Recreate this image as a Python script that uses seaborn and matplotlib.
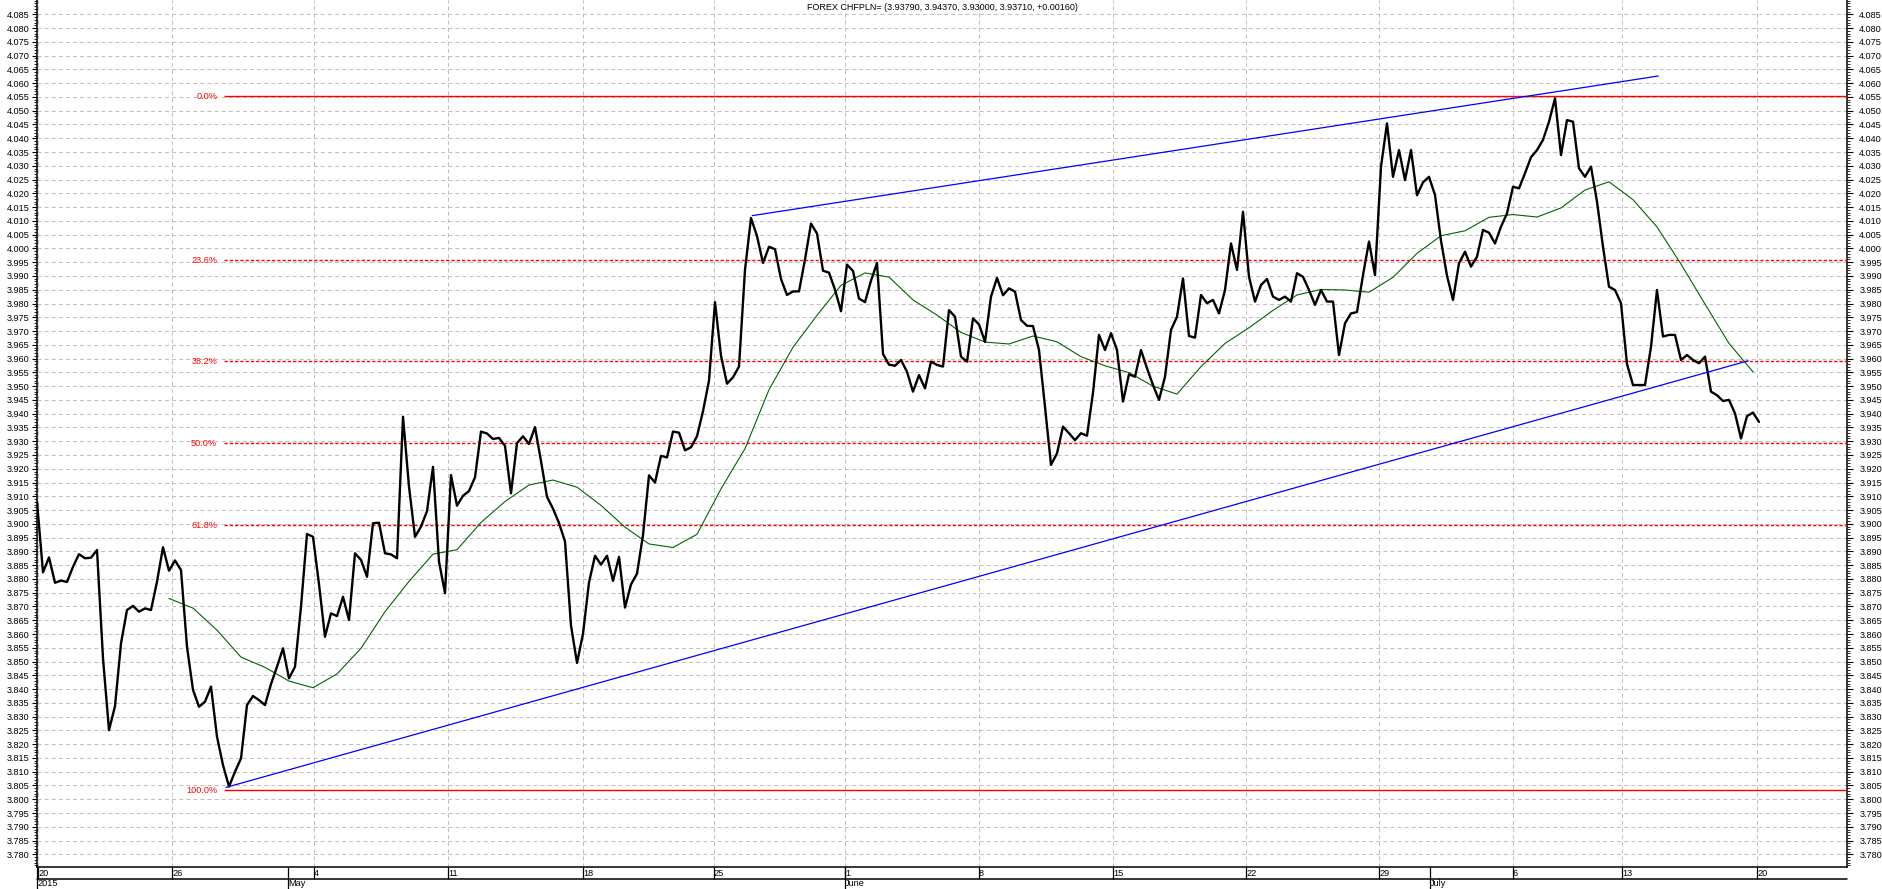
import numpy as np
import pandas as pd
import matplotlib
matplotlib.use("Agg")
import matplotlib.pyplot as plt
import seaborn as sns
from matplotlib.lines import Line2D
from matplotlib.ticker import FixedLocator, FormatStrFormatter

# ---------------- data ----------------
title = "FOREX CHFPLN= (3.93790, 3.94370, 3.93000, 3.93710, +0.00160)"

price = [
    3.9080, 3.8824, 3.8878, 3.8786, 3.8794, 3.8789, 3.8844, 3.8890, 3.8875, 3.8877,
    3.8905, 3.8512, 3.8251, 3.8338, 3.8566, 3.8687, 3.8702, 3.8681, 3.8693, 3.8687,
    3.8790, 3.8915, 3.8830, 3.8867, 3.8832, 3.8554, 3.8397, 3.8336, 3.8354, 3.8409,
    3.8227, 3.8124, 3.8046, 3.8100, 3.8148, 3.8342, 3.8375, 3.8360, 3.8342, 3.8418,
    3.8481, 3.8548, 3.8439, 3.8481, 3.8699, 3.8963, 3.8953, 3.8781, 3.8590, 3.8675,
    3.8665, 3.8735, 3.8651, 3.8893, 3.8869, 3.8808, 3.9002, 3.9004, 3.8893, 3.8889,
    3.8875, 3.9389, 3.9135, 3.8953, 3.8990, 3.9046, 3.9207, 3.8863, 3.8748, 3.9177,
    3.9066, 3.9102, 3.9119, 3.9169, 3.9335, 3.9328, 3.9308, 3.9312, 3.9283, 3.9111,
    3.9293, 3.9318, 3.9290, 3.9351, 3.9228, 3.9098, 3.9055, 3.9003, 3.8936, 3.8631,
    3.8495, 3.8601, 3.8787, 3.8884, 3.8852, 3.8884, 3.8793, 3.8880, 3.8696, 3.8780,
    3.8819, 3.8959, 3.9176, 3.9150, 3.9247, 3.9241, 3.9335, 3.9331, 3.9267, 3.9278,
    3.9318, 3.9409, 3.9520, 3.9805, 3.9610, 3.9509, 3.9532, 3.9571, 3.9922, 4.0110,
    4.0045, 3.9947, 4.0006, 3.9997, 3.9889, 3.9831, 3.9844, 3.9844, 3.9960, 4.0090,
    4.0054, 3.9919, 3.9912, 3.9850, 3.9772, 3.9941, 3.9918, 3.9818, 3.9805, 3.9883,
    3.9947, 3.9617, 3.9578, 3.9574, 3.9595, 3.9552, 3.9480, 3.9540, 3.9492, 3.9589,
    3.9577, 3.9571, 3.9776, 3.9752, 3.9607, 3.9589, 3.9746, 3.9724, 3.9661, 3.9825,
    3.9893, 3.9830, 3.9855, 3.9843, 3.9740, 3.9719, 3.9718, 3.9631, 3.9425, 3.9214,
    3.9256, 3.9353, 3.9329, 3.9304, 3.9329, 3.9320, 3.9476, 3.9686, 3.9631, 3.9692,
    3.9631, 3.9444, 3.9543, 3.9534, 3.9631, 3.9565, 3.9504, 3.9450, 3.9534, 3.9704,
    3.9752, 3.9891, 3.9682, 3.9676, 3.9831, 3.9801, 3.9813, 3.9764, 3.9849, 4.0018,
    3.9922, 4.0133, 3.9897, 3.9807, 3.9867, 3.9889, 3.9825, 3.9813, 3.9825, 3.9807,
    3.9910, 3.9897, 3.9849, 3.9795, 3.9849, 3.9807, 3.9807, 3.9613, 3.9728, 3.9764,
    3.9769, 3.9903, 4.0025, 3.9903, 4.0297, 4.0454, 4.0260, 4.0357, 4.0248, 4.0357,
    4.0193, 4.0240, 4.0260, 4.0194, 4.0028, 3.9901, 3.9813, 3.9946, 3.9988, 3.9934,
    3.9970, 4.0067, 4.0057, 4.0018, 4.0079, 4.0127, 4.0224, 4.0218, 4.0273, 4.0331,
    4.0357, 4.0394, 4.0460, 4.0545, 4.0339, 4.0466, 4.0460, 4.0291, 4.0260, 4.0297,
    4.0170, 4.0006, 3.9861, 3.9849, 3.9801, 3.9580, 3.9504, 3.9504, 3.9504, 3.9643,
    3.9849, 3.9680, 3.9686, 3.9686, 3.9595, 3.9613, 3.9595, 3.9583, 3.9607, 3.9480,
    3.9467, 3.9446, 3.9450, 3.9401, 3.9310, 3.9391, 3.9404, 3.9370,
]

# moving average, sampled every 4th bar starting at bar 22
ma_start, ma_step = 22, 4
ma_values = [
    3.8729, 3.8694, 3.8614, 3.8516, 3.8479, 3.8429, 3.8405, 3.8455, 3.8548, 3.8681,
    3.8791, 3.8890, 3.8906, 3.9005, 3.9081, 3.9141, 3.9159, 3.9133, 3.9067, 3.8988,
    3.8927, 3.8914, 3.8962, 3.9127, 3.9273, 3.9487, 3.9641, 3.9757, 3.9866, 3.9911,
    3.9896, 3.9813, 3.9758, 3.9695, 3.9660, 3.9653, 3.9682, 3.9661, 3.9607, 3.9574,
    3.9549, 3.9500, 3.9471, 3.9571, 3.9655, 3.9712, 3.9775, 3.9831, 3.9851, 3.9849,
    3.9841, 3.9895, 3.9982, 4.0046, 4.0064, 4.0113, 4.0123, 4.0114, 4.0147, 4.0212,
    4.0242, 4.0177, 4.0078, 3.9943, 3.9798, 3.9655, 3.9552,
]

# trend channel lines (bar, price)
channel_low_x = [31.5, 285.2]
channel_low_y = [3.8043, 3.9592]
channel_high_x = [119.2, 270.2]
channel_high_y = [4.0119, 4.0626]

# Fibonacci retracement
fib_high = 4.0552
fib_low = 3.8033
fib_start = 31.2
fib_ratios = [0.0, 0.236, 0.382, 0.5, 0.618, 1.0]
fib_labels = ["0.0%", "23.6%", "38.2%", "50.0%", "61.8%", "100.0%"]

# x axis (bar positions)
week_pos = [0.17, 22.5, 46.17, 68.5, 91.0, 112.83, 134.67, 157.0, 179.33,
            201.5, 223.67, 246.0, 264.17, 286.67]
week_labels = ["20", "26", "4", "11", "18", "25", "1", "8", "15", "22", "29",
               "6", "13", "20"]
month_pos = [0.0, 41.83, 134.67, 232.17]
month_labels = ["2015", "May", "June", "July"]

y_major = np.round(np.arange(3.780, 4.0851, 0.005), 3)
y_minor = np.round(np.arange(3.776, 4.0901, 0.001), 3)

# ---------------- style ----------------
sns.set_style("white")
plt.rcParams["font.family"] = ["Liberation Sans", "DejaVu Sans"]
plt.rcParams["lines.scale_dashes"] = False

W, H = 1883, 889
fig = plt.figure(figsize=(W / 100, H / 100), dpi=100)
fig.patch.set_facecolor("white")
ax = fig.add_axes([37 / W, 22 / H, 1810 / W, 867 / H])
ax.set_facecolor("white")

XMAX = 1810 / 6
ax.set_xlim(0, XMAX)
ax.set_ylim(3.7754, 4.0902)

df = pd.DataFrame({"bar": np.arange(len(price)), "price": price})
ma_df = pd.DataFrame({"bar": np.arange(len(ma_values)) * ma_step + ma_start,
                      "ma": ma_values})

# grid
ax.set_axisbelow(True)
ax.grid(True, which="major", axis="both", color="#c0c0c0",
        linestyle=(0, (2.9, 2.2)), linewidth=0.72)

# fib levels
rng = fib_high - fib_low
for r, lab in zip(fib_ratios, fib_labels):
    lvl = fib_high - r * rng
    ls = "-" if r in (0.0, 1.0) else (0, (2.3, 1.5))
    ax.hlines(lvl, fib_start, XMAX, colors="#ff0000", linewidth=1.0,
              linestyles=ls, zorder=3)
    ax.annotate(lab, xy=(fib_start, lvl), xytext=(-5, 0),
                textcoords="offset points", ha="right", va="center",
                color="#ff0000", fontsize=6.6, zorder=3)

sns.lineplot(data=ma_df, x="bar", y="ma", ax=ax, color="#006400",
             linewidth=0.8, estimator=None, sort=False, zorder=4)
sns.lineplot(data=df, x="bar", y="price", ax=ax, color="black",
             linewidth=1.7, estimator=None, sort=False, zorder=5)

ax.plot(channel_low_x, channel_low_y, color="#0000ff", linewidth=0.9, zorder=6)
ax.plot(channel_high_x, channel_high_y, color="#0000ff", linewidth=0.9, zorder=6)

ax.set_xlabel("")
ax.set_ylabel("")

# title inside top of plot
ax.text(0.5, 1 - 7 / 867, title, transform=ax.transAxes, ha="center",
        va="center", fontsize=6.5, color="black")

# spines
for s in ["left", "right", "bottom"]:
    ax.spines[s].set_visible(True)
    ax.spines[s].set_color("black")
    ax.spines[s].set_linewidth(1.1)
ax.spines["top"].set_visible(False)

# y axis left
ax.yaxis.set_major_locator(FixedLocator(y_major))
ax.yaxis.set_minor_locator(FixedLocator(y_minor))
ax.yaxis.set_major_formatter(FormatStrFormatter("%.3f"))
ax.tick_params(axis="y", which="major", left=True, right=False, direction="out",
               length=3.6, width=0.8, pad=2.0, labelsize=6.6, colors="black")
ax.tick_params(axis="y", which="minor", left=True, right=False, direction="out",
               length=2.0, width=0.7)

# y axis right (twin)
ax2 = ax.twinx()
ax2.set_ylim(ax.get_ylim())
ax2.yaxis.set_major_locator(FixedLocator(y_major))
ax2.yaxis.set_minor_locator(FixedLocator(y_minor))
ax2.yaxis.set_major_formatter(FormatStrFormatter("%.3f"))
ax2.tick_params(axis="y", which="major", right=True, left=False, direction="out",
                length=4.0, width=0.8, pad=4.8, labelsize=6.6, colors="black")
ax2.tick_params(axis="y", which="minor", right=True, left=False, direction="out",
                length=2.4, width=0.7)
for s in ax2.spines.values():
    s.set_visible(False)
ax2.grid(False)

# x axis: weeks (row 1) and months (row 2)
ax.xaxis.remove_overlapping_locs = False
ax.set_xticks(week_pos)
ax.set_xticklabels(week_labels, ha="left")
ax.set_xticks(month_pos, minor=True)
ax.set_xticklabels(month_labels, minor=True, ha="left")
ax.tick_params(axis="x", which="major", bottom=True, direction="out",
               length=8.6, width=0.9, pad=-7.4, labelsize=6.6, colors="black")
ax.tick_params(axis="x", which="minor", bottom=True, direction="out",
               length=16.0, width=0.9, pad=-7.0, labelsize=6.6, colors="black")

# separator line between the two date rows
ax.add_line(Line2D([0, 1], [-12 / 867, -12 / 867], transform=ax.transAxes,
                   color="black", linewidth=1.1, clip_on=False))

fig.savefig("out.png", dpi=100, facecolor="white")
